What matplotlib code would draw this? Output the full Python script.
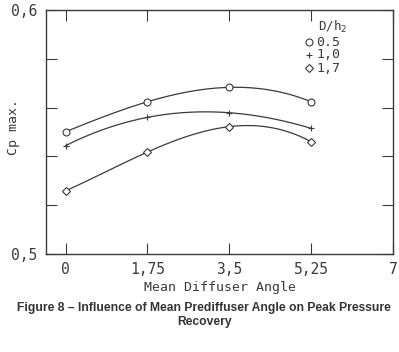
import numpy as np
import matplotlib.pyplot as plt

angle = [0, 1.75, 3.5, 5.25]
cp_05 = [0.5501, 0.5624, 0.5683, 0.5624]
cp_10 = [0.5444, 0.5560, 0.5579, 0.5515]
cp_17 = [0.5259, 0.5418, 0.5522, 0.5460]

xticks = [0, 1.75, 3.5, 5.25, 7]
xticklabels = ["0", "1,75", "3,5", "5,25", "7"]
series = [("0.5", cp_05, "o"), ("1,0", cp_10, "+"), ("1,7", cp_17, "D")]

ink = "#3a3a3a"
mono = "DejaVu Sans Mono"

fig = plt.figure(figsize=(3.99, 3.52), dpi=100)
ax = fig.add_axes([46 / 399, 1 - 254 / 352, 347 / 399, 244 / 352])

for lab, vals, mk in series:
    # smooth curve through the four measured points
    c = np.polyfit(angle, vals, 3)
    xs = np.linspace(angle[0], angle[-1], 200)
    ax.plot(xs, np.polyval(c, xs), color=ink, lw=0.9)
    ms = 4 if mk == "D" else 5
    ax.plot(angle, vals, ls="none", marker=mk, ms=ms, mfc="white",
            mec=ink, mew=0.8)

ax.set_xlim(-0.42, 7.0)
ax.set_ylim(0.5, 0.6)
ax.set_xticks(xticks)
ax.set_xticklabels(xticklabels, family=mono, fontsize=10.5, color=ink)
ax.set_yticks(np.arange(0.5, 0.601, 0.02))
ax.set_yticklabels(["0,5", "", "", "", "", "0,6"], family=mono,
                   fontsize=10.5, color=ink)
ax.tick_params(direction="in", length=8, width=0.8, color=ink,
               top=True, right=True, pad=6)
for s in ax.spines.values():
    s.set_color(ink)
    s.set_linewidth(1.0)

ax.set_xlabel("Mean Diffuser Angle", family=mono, fontsize=9.5,
              color=ink, labelpad=3)
ax.set_ylabel("Cp max.", family=mono, fontsize=9.5, color=ink)
ax.yaxis.set_label_coords(-0.075, 0.52)

# legend drawn by hand like the plotter original
fig.text(318 / 399, 1 - 27 / 352, "D/h$_2$", fontsize=9, family=mono,
         color=ink, va="center")
leg_y = [42, 55, 68]
for (lab, vals, mk), yy in zip(series, leg_y):
    ms = 4 if mk == "D" else 5
    ax.plot([309 / 399], [1 - yy / 352], transform=fig.transFigure,
            marker=mk, ms=ms, mfc="white", mec=ink, mew=0.8, ls="none",
            clip_on=False)
    fig.text(316 / 399, 1 - yy / 352, lab, family=mono, fontsize=9.5,
             color=ink, va="center")

fig.text(0.512, 1 - 308 / 352,
         "Figure 8 \u2013 Influence of Mean Prediffuser Angle on Peak Pressure",
         ha="center", va="center", family="Liberation Sans",
         fontweight="bold", fontsize=8.7, color="#333333")
fig.text(0.512, 1 - 322 / 352, "Recovery", ha="center", va="center",
         family="Liberation Sans", fontweight="bold", fontsize=8.7,
         color="#333333")

fig.savefig("out.png", dpi=100)
